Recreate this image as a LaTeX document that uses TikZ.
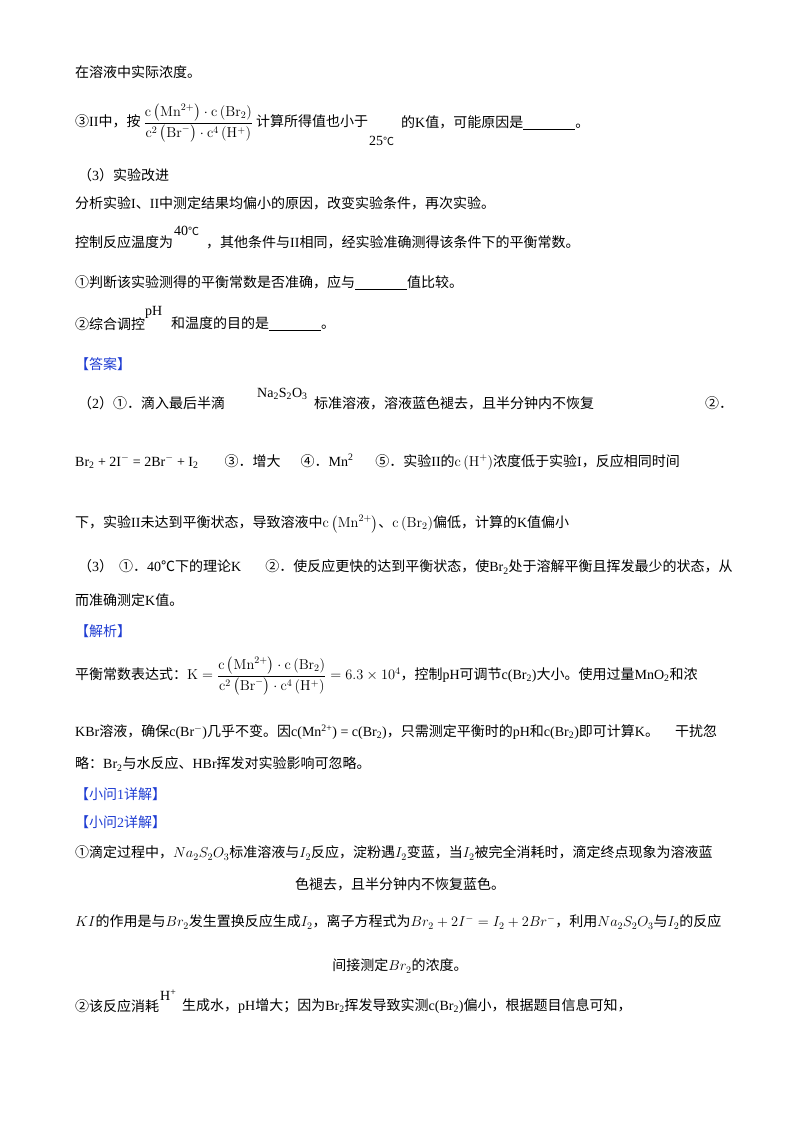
\documentclass[tikz,border=0pt]{standalone}
\usepackage{amsmath}
\usepackage[no-math]{fontspec}
\setmainfont{Noto Sans CJK SC}
\newfontfamily\latf{Liberation Serif}
\newcommand{\lat}[1]{{\latf #1}}
\newcommand{\blk}{\underline{\hspace{52pt}}}
\definecolor{ansblue}{RGB}{30,60,210}
\begin{document}
\begin{tikzpicture}[x=1pt,y=-1pt,
  t/.style={anchor=west,inner sep=0pt,font=\fontsize{14}{16}\selectfont},
  h/.style={t,text=ansblue}]
\useasboundingbox (0,0) rectangle (800,1132);
\node[t] (l1) at (75,72) {在溶液中实际浓度。};
\node[t] (l2) at (75,123) {③\lat{II}中，按 $\dfrac{\mathrm{c}\left(\mathrm{Mn}^{2+}\right)\cdot\mathrm{c}\left(\mathrm{Br}_2\right)}{\mathrm{c}^2\left(\mathrm{Br}^-\right)\cdot\mathrm{c}^4\left(\mathrm{H}^+\right)}$ 计算所得值也小于};
\node[t] (l2b) at (369,141) {\lat{25}{\fontsize{11}{12}\selectfont ℃}};
\node[t] (l2c) at (401,123) {的\lat{K}值，可能原因是\blk 。};
\node[t] (l3) at (78,175) {（\lat{3}）实验改进};
\node[t] (l4) at (75,203) {分析实验\lat{I}、\lat{II}中测定结果均偏小的原因，改变实验条件，再次实验。};
\node[t] (l5) at (75,242) {控制反应温度为};
\node[t] (l5b) at (174,231) {\lat{40}{\fontsize{11}{12}\selectfont ℃}};
\node[t] (l5c) at (206,242) {，其他条件与\lat{II}相同，经实验准确测得该条件下的平衡常数。};
\node[t] (l6) at (75,283) {①判断该实验测得的平衡常数是否准确，应与\blk 值比较。};
\node[t] (l7) at (75,324) {②综合调控};
\node[t] (l7b) at (145,312) {\lat{pH}};
\node[t] (l7c) at (171,324) {和温度的目的是\blk 。};
\node[h] (a0) at (75,364) {【答案】};
\node[t] (a1) at (78,403) {（\lat{2}）①．滴入最后半滴};
\node[t] (a1b) at (257,394) {\lat{Na\textsubscript{2}S\textsubscript{2}O\textsubscript{3}}};
\node[t] (a1c) at (314,403) {标准溶液，溶液蓝色褪去，且半分钟内不恢复};
\node[t] (a1d) at (705,403) {②．};
\node[t] (a2) at (75,462) {\lat{Br\textsubscript{2} + 2I\textsuperscript{$-$} = 2Br\textsuperscript{$-$} + I\textsubscript{2}}\hspace{26pt}③．增大\hspace{20pt}④．\lat{Mn\textsuperscript{2}}\hspace{22pt}⑤．实验\lat{II}的$\mathrm{c}\left(\mathrm{H}^+\right)$浓度低于实验\lat{I}，反应相同时间};
\node[t] (a3) at (75,524) {下，实验\lat{II}未达到平衡状态，导致溶液中$\mathrm{c}\left(\mathrm{Mn}^{2+}\right)$、$\mathrm{c}\left(\mathrm{Br}_2\right)$偏低，计算的\lat{K}值偏小};
\node[t] (a4) at (78,567) {（\lat{3}）\hspace{6pt}①．\lat{40}℃下的理论\lat{K}\hspace{24pt}②．使反应更快的达到平衡状态，使\lat{Br\textsubscript{2}}处于溶解平衡且挥发最少的状态，从};
\node[t] (a5) at (75,600) {而准确测定\lat{K}值。};
\node[h] (j0) at (75,631) {【解析】};
\node[t] (j1) at (75,676) {平衡常数表达式：$\mathrm{K}=\dfrac{\mathrm{c}\left(\mathrm{Mn}^{2+}\right)\cdot\mathrm{c}\left(\mathrm{Br}_2\right)}{\mathrm{c}^2\left(\mathrm{Br}^-\right)\cdot\mathrm{c}^4\left(\mathrm{H}^+\right)}=6.3\times10^4$，控制\lat{pH}可调节\lat{c(Br\textsubscript{2})}大小。使用过量\lat{MnO\textsubscript{2}}和浓};
\node[t] (j2) at (75,732) {\lat{KBr}溶液，确保\lat{c(Br\textsuperscript{$-$})}几乎不变。因\lat{c(Mn\textsuperscript{2+}) = c(Br\textsubscript{2})}，只需测定平衡时的\lat{pH}和\lat{c(Br\textsubscript{2})}即可计算\lat{K}。\hspace{16pt}干扰忽};
\node[t] (j3) at (75,764) {略：\lat{Br\textsubscript{2}}与水反应、\lat{HBr}挥发对实验影响可忽略。};
\node[h] (q1) at (75,794) {【小问\lat{1}详解】};
\node[h] (q2) at (75,822) {【小问\lat{2}详解】};
\node[t] (k1) at (75,853) {①滴定过程中，$Na_2S_2O_3$标准溶液与$I_2$反应，淀粉遇$I_2$变蓝，当$I_2$被完全消耗时，滴定终点现象为溶液蓝};
\node[t,anchor=center] (k2) at (400,884) {色褪去，且半分钟内不恢复蓝色。};
\node[t] (k3) at (75,922) {$KI$的作用是与$Br_2$发生置换反应生成$I_2$，离子方程式为$Br_2+2I^-=I_2+2Br^-$，利用$Na_2S_2O_3$与$I_2$的反应};
\node[t,anchor=center] (k4) at (400,966) {间接测定$Br_2$的浓度。};
\node[t] (k5) at (75,1006) {②该反应消耗};
\node[t] (k5b) at (160,995) {\lat{H\textsuperscript{+}}};
\node[t] (k5c) at (182,1006) {生成水，\lat{pH}增大；因为\lat{Br\textsubscript{2}}挥发导致实测\lat{c(Br\textsubscript{2})}偏小，根据题目信息可知，};
\end{tikzpicture}
\end{document}
